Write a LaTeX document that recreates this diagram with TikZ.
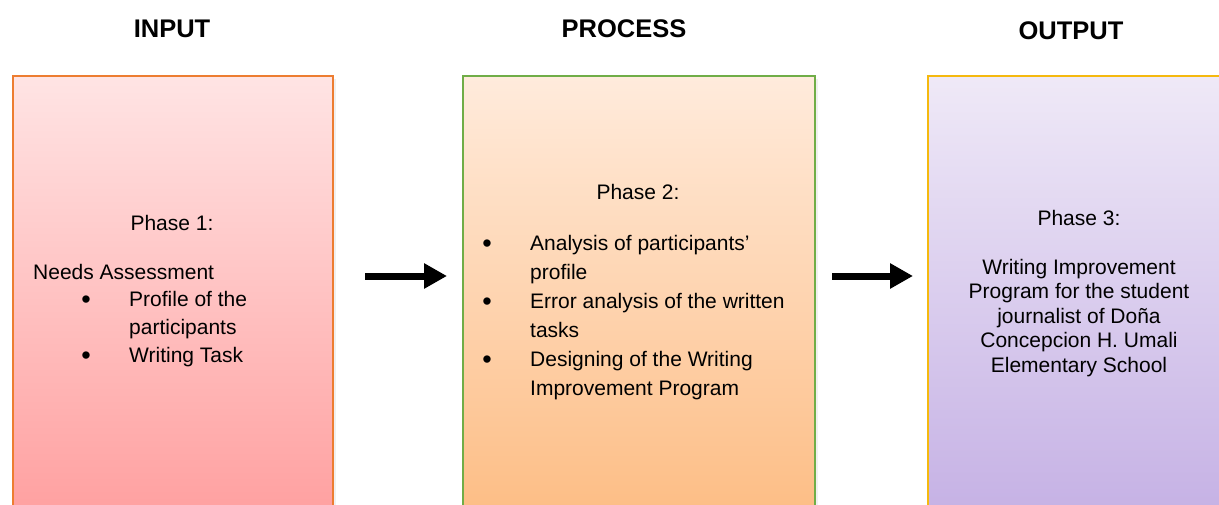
\documentclass[tikz,border=0pt]{standalone}
\usepackage{fontspec}
\setmainfont{Liberation Sans}
\usetikzlibrary{arrows.meta,shadows}

\definecolor{inTop}{HTML}{FFE4E4}
\definecolor{inBot}{HTML}{FFA1A1}
\definecolor{inLine}{HTML}{ED7D31}
\definecolor{prTop}{HTML}{FFEBDC}
\definecolor{prBot}{HTML}{FDBE86}
\definecolor{prLine}{HTML}{70AD47}
\definecolor{outTop}{HTML}{EFE9F7}
\definecolor{outBot}{HTML}{C6B2E5}
\definecolor{outLine}{HTML}{F5B90F}

\begin{document}
\begin{tikzpicture}[x=1pt,y=-1pt,
  phasebox/.style={draw, line width=2pt, anchor=north west, inner sep=0pt,
    minimum height=432pt,
    drop shadow={shadow xshift=3pt, shadow yshift=-3pt, opacity=0.12}},
  header/.style={font=\fontsize{25.5}{30}\selectfont\bfseries, anchor=base},
  body/.style={font=\fontsize{21}{25}\selectfont, inner sep=0pt},
  line/.style={body, anchor=base west},
  mid/.style={body, anchor=base},
  dot/.style={font=\fontsize{27}{30}\selectfont, inner sep=0pt, anchor=base},
  flow/.style={line width=7pt, -{Triangle[length=23pt,width=24pt]}}
]
\useasboundingbox (0,0) rectangle (1219,504);
\clip (0,0) rectangle (1219,504);

% column headings
\node[header] (hIn)  at (172,37) {INPUT};
\node[header] (hPr)  at (624,37) {PROCESS};
\node[header] (hOut) at (1071,39) {OUTPUT};

% the three phase boxes
\node[phasebox, draw=inLine, top color=inTop, bottom color=inBot,
      minimum width=320pt] (in) at (12,75) {};
\node[phasebox, draw=prLine, top color=prTop, bottom color=prBot,
      minimum width=352pt] (pr) at (462,75) {};
\node[phasebox, draw=outLine, top color=outTop, bottom color=outBot,
      minimum width=300pt] (out) at (927,75) {};

% phase 1
\node[mid]  (t1)  at (172,230) {Phase 1:};
\node[line] (t1a) at (33,279)  {Needs Assessment};
\node[dot]  (b1a) at (86,308)  {•};
\node[line] (t1b) at (129,306) {Profile of the};
\node[line] (t1c) at (129,334) {participants};
\node[dot]  (b1b) at (86,364)  {•};
\node[line] (t1d) at (129,362) {Writing Task};

% phase 2
\node[mid]  (t2)  at (638,199) {Phase 2:};
\node[dot]  (b2a) at (487,252) {•};
\node[line] (t2a) at (530,250) {Analysis of participants’};
\node[line] (t2b) at (530,279) {profile};
\node[dot]  (b2b) at (487,310) {•};
\node[line] (t2c) at (530,308) {Error analysis of the written};
\node[line] (t2d) at (530,337) {tasks};
\node[dot]  (b2c) at (487,368) {•};
\node[line] (t2e) at (530,366) {Designing of the Writing};
\node[line] (t2f) at (530,395) {Improvement Program};

% phase 3
\node[mid] (t3)  at (1079,225)   {Phase 3:};
\node[mid] (t3a) at (1079,274)   {Writing Improvement};
\node[mid] (t3b) at (1079,298.5) {Program for the student};
\node[mid] (t3c) at (1079,323)   {journalist of Doña};
\node[mid] (t3d) at (1079,347.5) {Concepcion H. Umali};
\node[mid] (t3e) at (1079,372)   {Elementary School};

% flow arrows between the boxes
\coordinate (a1s) at (365,276);
\coordinate (a1e) at (447,276);
\coordinate (a2s) at (832,276);
\coordinate (a2e) at (913,276);
\draw[flow] (a1s) -- (a1e);
\draw[flow] (a2s) -- (a2e);
\end{tikzpicture}
\end{document}
